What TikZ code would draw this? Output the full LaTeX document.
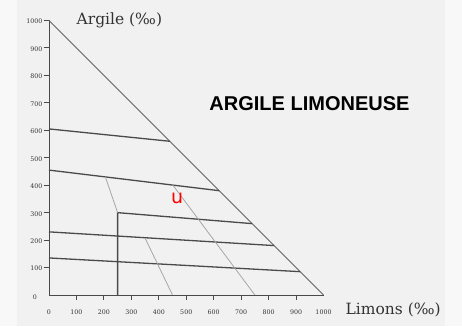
\documentclass[tikz,border=0pt]{standalone}
\usepackage{fontspec}
\newfontfamily\headfont{Liberation Sans}
\newfontfamily\markfont{DejaVu Sans}
\newfontfamily\scalefont{DejaVu Serif}
\definecolor{paper}{HTML}{F1F1F1}
\definecolor{rim}{HTML}{F8F8F8}
\definecolor{ink}{HTML}{4A4A4A}
\definecolor{pale}{HTML}{A6A6A6}

\begin{document}
\begin{tikzpicture}[x=1pt, y=1pt, every node/.style={font=\scalefont\fontsize{6.3}{6.3}\selectfont, text=black!80, inner sep=0pt},
	axis/.style={draw=ink, line width=1pt}, band/.style={draw=ink, line width=1.3pt},
	guide/.style={draw=pale, line width=0.8pt}, edge/.style={draw=ink!85, line width=0.9pt},
	title/.style={font=\scalefont\fontsize{15.5}{15.5}\selectfont, text=black!80}]
	\useasboundingbox (0,0) rectangle (462,326);
	\fill[rim] (0,0) rectangle (462,326);
	\fill[paper] (17,0) rectangle (445,326);
	\begin{scope}[shift={(49,31)}, x=0.2745pt, y=0.2745pt]
		\coordinate (O) at (0,0);
		\coordinate (X) at (1000,0);
		\coordinate (Y) at (0,1000);
		\draw[axis] (Y) -- (O) -- (X);
		\draw[edge] (Y) -- (X);
		\foreach \v in {100,200,...,1000} {
			\draw[axis] (-20,\v) -- (0,\v);
			\node[anchor=east] at (-23,\v-4) {\v};
		}
		\node at (-51,-8) {0};
		\foreach \v in {100,200,...,900} \draw[axis] (\v,0) -- (\v,-18);
		\foreach \v in {0,100,...,1000} \node at (\v,-62) {\v};
		\coordinate (a1) at (0,605);   \coordinate (b1) at (440,560);
		\coordinate (a2) at (0,455);   \coordinate (b2) at (620,380);
		\coordinate (a3) at (250,300); \coordinate (b3) at (740,260);
		\coordinate (a4) at (0,230);   \coordinate (b4) at (820,180);
		\coordinate (a5) at (0,135);   \coordinate (b5) at (915,85);
		\coordinate (c3) at (250,0);
		\draw[band] (a1) -- (b1);
		\draw[band] (a2) -- (b2);
		\draw[band] (c3) -- (a3) -- (b3);
		\draw[band] (a4) -- (b4);
		\draw[band] (a5) -- (b5);
		\draw[guide] (205,431) -- (a3);
		\draw[guide] (450,402) -- (750,0);
		\draw[guide] (350,207) -- (450,0);
		\node[title, anchor=west] (argile) at (100,1000) {Argile\ (‰)};
		\node[title, anchor=west] (limons) at (1080,-55) {Limons (‰)};
		\node[red, font=\markfont\fontsize{19}{19}\selectfont] (u) at (467,353) {u};
	\end{scope}
	\node[font=\headfont\bfseries\fontsize{20}{20}\selectfont, text=black] (zone) at (309.5,222) {ARGILE LIMONEUSE};
\end{tikzpicture}
\end{document}
